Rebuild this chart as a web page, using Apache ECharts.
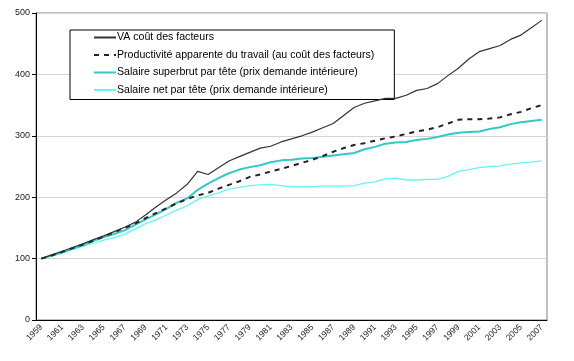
<!DOCTYPE html>
<html>
<head>
<meta charset="utf-8">
<script src="https://cdn.jsdelivr.net/npm/echarts@6/dist/echarts.min.js"></script>
<style>html,body{margin:0;padding:0;background:#fff;}#c{width:574px;height:361px;}</style>
</head>
<body>
<div id="c"></div>
<script>
const years = [];
for (let y = 1959; y <= 2007; y++) years.push(String(y));

const seriesNames = [
  "VA coût des facteurs",
  "Productivité apparente du travail (au coût des facteurs)",
  "Salaire superbrut par tête (prix demande intérieure)",
  "Salaire net par tête (prix demande intérieure)"
];

const vaCout = [100,106,112,118,124,131,137,144,151,159,171,184,196,207,221,242,237,248,259,266,273,280,283,290,295,300,306,313,320,333,346,353,357,361,361,366,374,377,385,398,410,425,437,442,447,457,464,476,488];
const productivite = [100,105,111,117,123,129,136,143,150,157,166,174,182,190,197,203,207,214,220,226,233,237,242,246,251,256,261,267,274,280,285,288,292,296,299,303,307,310,314,320,326,327,327,328,330,335,339,345,350];
const salaireSuperbrut = [100,105,110,116,122,129,135,140,146,155,164,172,181,191,198,212,222,231,239,245,249,252,257,260,261,263,264,266,268,270,272,278,282,287,289,290,293,295,298,302,305,306,307,311,314,319,322,324,326];
const salaireNet = [100,104,109,115,120,125,130,134,140,148,157,163,171,179,186,196,202,207,213,216,219,220,221,219,217,217,217,218,218,218,219,223,225,230,231,228,228,229,229,234,242,245,248,250,251,254,256,257,259];

const yTicks = [0,100,200,300,400,500];

const chart = echarts.init(document.getElementById('c'), null, {renderer: 'canvas'});
const font = 'Liberation Sans, Arial, sans-serif';
chart.setOption({
  animation: false,
  backgroundColor: '#ffffff',
  textStyle: {fontFamily: font},
  grid: {left: 36, right: 27, top: 13, bottom: 41, show: true, borderColor: '#808080', borderWidth: 1, backgroundColor: 'transparent'},
  legend: {
    orient: 'vertical',
    left: 70, top: 30,
    padding: [2, 20, 4, 23],
    itemGap: 6.5,
    itemWidth: 22, itemHeight: 10,
    borderColor: '#000', borderWidth: 1,
    backgroundColor: '#fff',
    itemStyle: {opacity: 0},
    textStyle: {fontFamily: font, fontSize: 10.6, color: '#000', padding: [0,0,0,-4]},
    data: seriesNames
  },
  xAxis: {
    type: 'category',
    data: years,
    boundaryGap: true,
    axisLine: {lineStyle: {color: '#000', width: 1}},
    axisTick: {interval: 0, length: 4, lineStyle: {color: '#000'}},
    axisLabel: {interval: 1, rotate: 45, fontSize: 8.5, color: '#222', margin: 6, fontFamily: font},
    splitLine: {show: false}
  },
  yAxis: {
    type: 'value',
    min: yTicks[0], max: yTicks[yTicks.length-1], interval: 100,
    axisLine: {show: true, lineStyle: {color: '#000', width: 1}},
    axisTick: {show: true, length: 4, lineStyle: {color: '#000'}},
    axisLabel: {fontSize: 9, color: '#222', margin: 6, fontFamily: font},
    splitLine: {show: true, lineStyle: {color: '#d4d4d4', width: 1}}
  },
  series: [
    {name: seriesNames[0], type: 'line', data: vaCout, symbol: 'none', z: 4,
     lineStyle: {color: '#333333', width: 1.2}, itemStyle: {color: '#333333'}},
    {name: seriesNames[1], type: 'line', data: productivite, symbol: 'none', z: 3,
     lineStyle: {color: '#222222', width: 2, type: [5, 5]}, itemStyle: {color: '#222222'}},
    {name: seriesNames[2], type: 'line', data: salaireSuperbrut, symbol: 'none', z: 2,
     lineStyle: {color: '#33c9c9', width: 2}, itemStyle: {color: '#33c9c9'}},
    {name: seriesNames[3], type: 'line', data: salaireNet, symbol: 'none', z: 1,
     lineStyle: {color: '#66f5f5', width: 1.3}, itemStyle: {color: '#66f5f5'}}
  ]
});
</script>
</body>
</html>
